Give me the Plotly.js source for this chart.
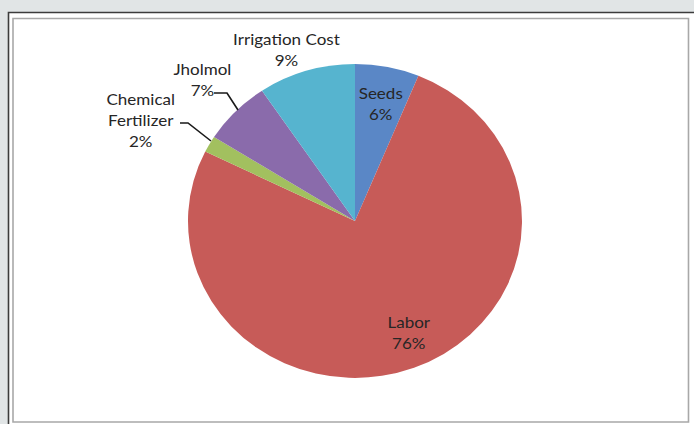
<!DOCTYPE html>
<html>
<head>
<meta charset="utf-8">
<script src="https://cdn.plot.ly/plotly-3.0.1.min.js"></script>
<style>
html,body{margin:0;padding:0;background:#e1e5e6;overflow:hidden;}
#chart{width:652px;height:424px;transform:scaleX(1.0644);transform-origin:0 0;}
</style>
</head>
<body>
<div id="chart"></div>
<script>
// Data
const categories = ["Seeds", "Labor", "Chemical<br>Fertilizer", "Jholmol", "Irrigation Cost"];
const values = [6.2, 76.1, 1.7, 6.6, 9.4];
const colors = ["#5a87c6", "#c75b58", "#a2c05f", "#8a6bab", "#56b4cf"];

// page is 694 px wide; the plot is drawn at 652 px and stretched horizontally
const W = 694, H = 424, PW = 652;
const px = x => x / W;
const py = y => 1 - y / H;

const total = values.reduce((a, b) => a + b, 0);
const pctText = values.map(v => Math.round(v / total * 100) + "%");

// label placement (pixel centres on the page) per category
const labelPos = [[381, 103], [409, 332], [140, 120], [202, 79], [286, 49]];

const annotations = categories.map((c, i) => ({
  xref: "paper", yref: "paper",
  x: px(labelPos[i][0]), y: py(labelPos[i][1]),
  xanchor: "center", yanchor: "middle",
  text: c + "<br>" + pctText[i],
  showarrow: false,
  font: {family: "Lato, 'Noto Sans', sans-serif", size: 16, color: "#262626"}
}));

function path(pts) {
  return pts.map((p, i) => (i ? "L" : "M") + px(p[0]) + "," + py(p[1])).join(" ");
}

const shapes = [
  {type: "rect", xref: "paper", yref: "paper", layer: "below",
   x0: px(8.5), x1: px(720), y0: py(12.5), y1: py(440),
   fillcolor: "#ffffff", line: {color: "#3c3c3c", width: 1.5}},
  {type: "rect", xref: "paper", yref: "paper", layer: "below",
   x0: px(13), x1: px(688.5), y0: py(18.5), y1: py(422),
   fillcolor: "rgba(0,0,0,0)", line: {color: "#a8a8a8", width: 1.5}},
  {type: "path", xref: "paper", yref: "paper",
   path: path([[214, 93], [227, 93], [238, 110]]),
   line: {color: "#1a1a1a", width: 1.5}},
  {type: "path", xref: "paper", yref: "paper",
   path: path([[180, 123], [188, 123], [211, 141]]),
   line: {color: "#1a1a1a", width: 1.5}}
];

const trace = {
  type: "pie",
  labels: categories,
  values: values,
  sort: false,
  direction: "clockwise",
  rotation: 0,
  textinfo: "none",
  hoverinfo: "label+percent",
  marker: {colors: colors, line: {width: 0}},
  domain: {x: [px(188), px(522)], y: [py(378), py(64)]},
  showlegend: false
};

const layout = {
  width: PW, height: H,
  margin: {l: 0, r: 0, t: 0, b: 0},
  paper_bgcolor: "#e1e5e6",
  plot_bgcolor: "#e1e5e6",
  showlegend: false,
  shapes: shapes,
  annotations: annotations
};

Plotly.newPlot("chart", [trace], layout, {displayModeBar: false, staticPlot: true});
</script>
</body>
</html>
